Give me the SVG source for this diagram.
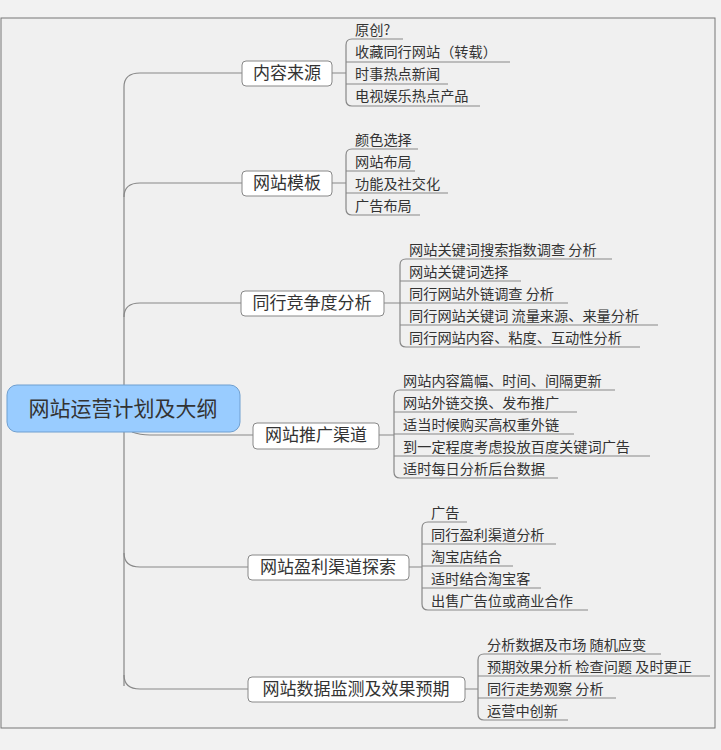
<svg xmlns="http://www.w3.org/2000/svg" width="721" height="750" viewBox="0 0 721 750">
<style>
text{font-family:"Noto Sans CJK SC","Liberation Sans",sans-serif;fill:#333}
.t{font-size:17px}
.c{font-size:14.2px}
.box{fill:#fff;stroke:#888;stroke-width:1}
.ln{fill:none;stroke:#888;stroke-width:1.2}
</style>
<rect x="0" y="0" width="721" height="750" fill="#f2f2f2"/>
<rect x="1" y="18" width="714" height="710" fill="#f0f0f0" stroke="#777"/>
<g id="connectors" class="ln">
<path d="M124,686 V87 Q124,73 140,73 H242"/>
<path d="M124,197 Q124,183 140,183 H242"/>
<path d="M124,317 Q124,303 140,303 H241"/>
<path d="M132,432 Q140,435 150,435 H253"/>
<path d="M124,553 V553 Q124,567 140,567 H248"/>
<path d="M124,675 Q124,689 140,689 H248"/>
<path d="M332,73 H346 M346,45 Q346,39 352,39 H403 M346,45 V100 Q346,106 352,106 H480 M346,62 H510 M346,84 H448"/>
<path d="M332,183 H346 M346,155 Q346,149 352,149 H418 M346,155 V209 Q346,215 352,215 H420 M346,171 H415 M346,193 H448"/>
<path d="M384,303 H400 M400,265 Q400,259 406,259 H612 M400,265 V341 Q400,347 406,347 H640 M400,281 H521 M400,303 H568 M400,325 H658"/>
<path d="M379,435 H394 M394,396 Q394,390 400,390 H615 M394,396 V472 Q394,478 400,478 H558 M394,412 H577 M394,434 H574 M394,456 H650"/>
<path d="M409,567 H422 M422,528 Q422,522 428,522 H467 M422,528 V604 Q422,610 428,610 H588 M422,544 H556 M422,566 H513 M422,588 H541"/>
<path d="M465,689 H478 M478,660 Q478,654 484,654 H661 M478,660 V714 Q478,720 484,720 H568 M478,676 H710 M478,698 H616"/>
</g>
<g id="root"><rect x="7" y="385" width="233" height="47" rx="10" fill="#99ccff" stroke="#6f9fd0"/><text x="123" y="416" text-anchor="middle" style="font-size:21px">网站运营计划及大纲</text></g>
<g id="t1"><rect class="box" x="242" y="61" width="90" height="25" rx="4"/><text class="t" x="287" y="79" text-anchor="middle">内容来源</text></g>
<g id="t2"><rect class="box" x="242" y="171" width="90" height="25" rx="4"/><text class="t" x="287" y="189" text-anchor="middle">网站模板</text></g>
<g id="t3"><rect class="box" x="241" y="291" width="143" height="25" rx="4"/><text class="t" x="312" y="309" text-anchor="middle">同行竞争度分析</text></g>
<g id="t4"><rect class="box" x="253" y="423" width="126" height="26" rx="4"/><text class="t" x="316" y="441" text-anchor="middle">网站推广渠道</text></g>
<g id="t5"><rect class="box" x="248" y="555" width="161" height="25" rx="4"/><text class="t" x="328" y="573" text-anchor="middle">网站盈利渠道探索</text></g>
<g id="t6"><rect class="box" x="248" y="677" width="217" height="25" rx="4"/><text class="t" x="356" y="695" text-anchor="middle">网站数据监测及效果预期</text></g>
<g id="c1" class="c"><text x="355" y="35">原创?</text><text x="355" y="57">收藏同行网站（转载）</text><text x="355" y="79">时事热点新闻</text><text x="355" y="101">电视娱乐热点产品</text></g>
<g id="c2" class="c"><text x="355" y="145">颜色选择</text><text x="355" y="167">网站布局</text><text x="355" y="189">功能及社交化</text><text x="355" y="211">广告布局</text></g>
<g id="c3" class="c"><text x="409" y="255">网站关键词搜索指数调查 分析</text><text x="409" y="277">网站关键词选择</text><text x="409" y="299">同行网站外链调查 分析</text><text x="409" y="321">同行网站关键词 流量来源、来量分析</text><text x="409" y="343">同行网站内容、粘度、互动性分析</text></g>
<g id="c4" class="c"><text x="403" y="386">网站内容篇幅、时间、间隔更新</text><text x="403" y="408">网站外链交换、发布推广</text><text x="403" y="430">适当时候购买高权重外链</text><text x="403" y="452">到一定程度考虑投放百度关键词广告</text><text x="403" y="474">适时每日分析后台数据</text></g>
<g id="c5" class="c"><text x="431" y="518">广告</text><text x="431" y="540">同行盈利渠道分析</text><text x="431" y="562">淘宝店结合</text><text x="431" y="584">适时结合淘宝客</text><text x="431" y="606">出售广告位或商业合作</text></g>
<g id="c6" class="c"><text x="487" y="650">分析数据及市场 随机应变</text><text x="487" y="672">预期效果分析 检查问题 及时更正</text><text x="487" y="694">同行走势观察 分析</text><text x="487" y="716">运营中创新</text></g>
</svg>
